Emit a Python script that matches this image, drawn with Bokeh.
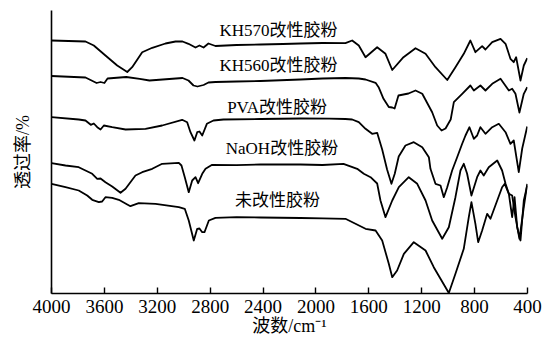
from bokeh.plotting import figure
from bokeh.models import Range1d, FixedTicker, Label
from bokeh.embed import file_html
from bokeh.resources import INLINE

# ---- data (wavenumber cm^-1, relative transmittance, arbitrary offset units) ----
kh570_wn = [4000, 3743, 3680, 3592, 3503, 3427, 3390, 3314, 3238, 3138, 3062, 3009, 2964,
            2911, 2881, 2850, 2813, 2760, 2600, 2419, 2250, 2117, 1950, 1777, 1726, 1676,
            1625, 1537, 1474, 1423, 1338, 1247, 1171, 1096, 1007, 945, 882, 832, 794, 743,
            718, 667, 604, 566, 529, 504, 486, 453, 428, 402]
kh570_t = [253, 252, 248, 238, 228, 221.5, 226.3, 241.3, 245.7, 250, 252, 252, 249.7,
           246, 248, 246, 250, 247.5, 248.5, 249, 249.5, 250, 250.5, 250.3, 253, 248,
           236.3, 246.3, 239.7, 223.5, 236.3, 245.3, 239.7, 226.3, 213.5, 226.3, 239.7, 253, 241.3, 247.3,
           244, 251.3, 254.7, 249.7, 234.7, 231.3, 236.3, 213, 228, 235.3]

kh560_wn = [4000, 3743, 3697, 3659, 3629, 3600, 3576, 3435, 3333, 3259, 3009, 2964, 2926,
            2896, 2850, 2813, 2760, 2600, 2419, 2117, 1950, 1777, 1676, 1625, 1549, 1526,
            1489, 1449, 1423, 1405, 1376, 1300, 1247, 1196, 1121, 1083, 1050, 1020, 981,
            957, 894, 832, 806, 756, 718, 667, 604, 541, 516, 491, 461, 428, 402]
kh560_t = [217.5, 216, 213, 210.5, 211.5, 210.5, 215, 216.5, 214.7, 213, 215.5, 213, 208,
           207, 208.5, 211, 211.5, 212, 212.5, 214, 215, 215.5, 215, 214, 210.7, 206.3,
           194.7, 186.5, 186, 185, 198, 200, 203, 199.7, 181.3, 168, 163, 165, 174,
           191.3, 199.7, 208, 203, 208, 203, 209.7, 214.7, 203, 204.7, 199.7, 181, 199.7, 206.3]

pva_wn = [4000, 3794, 3743, 3703, 3680, 3654, 3629, 3604, 3541, 3440, 3289, 3163, 3012,
          2974, 2949, 2919, 2898, 2881, 2860, 2825, 2775, 2700, 2419, 2117, 1900, 1777,
          1726, 1676, 1625, 1575, 1537, 1499, 1462, 1429, 1404, 1374, 1323, 1260, 1196,
          1146, 1134, 1096, 1058, 1033, 1007, 970, 932, 894, 869, 839, 806, 781, 756,
          718, 667, 617, 566, 529, 504, 466, 440, 402]
pva_t = [176.3, 174, 173, 168.7, 170, 166.3, 164, 168, 166.3, 164, 164.7, 168, 173.7,
         171.3, 161.3, 153, 161.3, 162, 158, 169.7, 173, 174, 174.5, 175, 174.8, 174.5,
         174, 171.3, 164.7, 159.7, 160.7, 144, 124, 109.7, 119.7, 137, 148, 151.3, 146.3,
         136.3, 124.7, 109.7, 108, 96.3, 106.3, 123, 136.3, 149.7, 158, 166.3, 154.7, 158, 166.3,
         159.7, 166.3, 169.7, 161.3, 149.7, 153, 121.3, 145, 167]

naoh_wn = [4000, 3894, 3794, 3743, 3692, 3654, 3629, 3592, 3541, 3478, 3440, 3365, 3314,
           3238, 3163, 3037, 3017, 2992, 2962, 2936, 2911, 2891, 2860, 2835, 2785, 2600,
           2419, 2117, 1950, 1792, 1688, 1638, 1587, 1537, 1512, 1474, 1423, 1373, 1298,
           1234, 1171, 1121, 1045, 995, 945, 907, 882, 857, 824, 781, 756, 731, 693,
           629, 592, 566, 541, 516, 491, 461, 428, 402]
naoh_t = [130.3, 128, 126.3, 123, 119.7, 114.7, 115, 111.3, 107, 100.7, 104.7, 118, 121.3,
          124.7, 129.7, 130.7, 128, 116.3, 101.3, 113, 116.3, 110.3, 119.7, 124.7, 128.7, 128.3,
          129, 129, 128.5, 129.7, 124.7, 119.7, 116.3, 110, 93, 76.3, 93, 106.3, 116.3,
          109.7, 93, 73, 54.7, 66.3, 96.3, 123, 129.7, 120, 98, 116.3, 123, 118, 126.3,
          133, 123, 109.7, 99.7, 98, 76.3, 54.7, 86.3, 109.7]

raw_wn = [4000, 3894, 3794, 3730, 3692, 3642, 3617, 3592, 3541, 3491, 3427, 3403, 3340,
          3213, 3037, 2992, 2962, 2924, 2898, 2881, 2860, 2843, 2810, 2760, 2600, 2419,
          2117, 1950, 1777, 1625, 1549, 1499, 1449, 1423, 1386, 1335, 1260, 1171, 1109,
          1058, 995, 945, 882, 844, 824, 794, 773, 743, 705, 680, 629, 592, 572, 541,
          516, 498, 478, 453, 428, 402]
raw_t = [109.7, 106.3, 103, 98, 93.7, 91.3, 92, 96.3, 95.7, 93.7, 89, 87.3, 90.3,
         89.7, 86.3, 84.7, 73, 53, 64.7, 65, 61.3, 61.3, 73, 75.7, 76.3, 76,
         75.5, 75.2, 74.7, 64.7, 63, 53, 29.7, 16.3, 23, 39.7, 51.3, 43, 26.3,
         14.7, 0.5, 19.7, 44.7, 76.3, 91.3, 69.7, 51.3, 63, 79.7, 74.7, 93, 106.3, 109.7, 99.7,
         76.3, 96.3, 66.3, 53, 93, 108]

series_names = ["KH570改性胶粉", "KH560改性胶粉", "PVA改性胶粉", "NaOH改性胶粉", "未改性胶粉"]
x_ticks = [4000, 3600, 3200, 2800, 2400, 2000, 1600, 1200, 800, 400]

# label anchor positions (data units)
label_pos = [(2283, 263.5), (2283, 228.5), (2294, 186), (2257, 145), (2291, 93)]

SERIF = "'Liberation Serif', 'Noto Sans CJK SC'"

p = figure(width=545, height=344, output_backend="svg", toolbar_location=None,
           x_range=Range1d(4000, 400), y_range=Range1d(0, 283),
           min_border_left=51, min_border_right=18, min_border_top=10, min_border_bottom=51)
p.outline_line_color = None
p.xgrid.visible = False
p.ygrid.visible = False
p.background_fill_color = "white"
p.border_fill_color = "white"

for wn, t in [(kh570_wn, kh570_t), (kh560_wn, kh560_t), (pva_wn, pva_t),
              (naoh_wn, naoh_t), (raw_wn, raw_t)]:
    p.line(wn, t, line_color="black", line_width=1.8, line_join="round")

for name, (lx, ly) in zip(series_names, label_pos):
    p.add_layout(Label(x=lx, y=ly, text=name, text_align="center", text_baseline="middle",
                       text_font=SERIF, text_font_size="17px", text_color="black"))

xa = p.xaxis[0]
xa.ticker = FixedTicker(ticks=x_ticks)
xa.major_tick_in = 6
xa.major_tick_out = 0
xa.minor_tick_in = 0
xa.minor_tick_out = 0
xa.axis_line_width = 1.6
xa.axis_line_color = "black"
xa.major_tick_line_width = 1.4
xa.major_tick_line_color = "black"
xa.major_label_text_font = SERIF
xa.major_label_text_font_size = "19px"
xa.major_label_text_color = "black"
xa.major_label_standoff = 6
xa.axis_label = "波数/cm⁻¹"
xa.axis_label_text_font = SERIF
xa.axis_label_text_font_size = "18px"
xa.axis_label_text_font_style = "normal"
xa.axis_label_text_color = "black"
xa.axis_label_standoff = 0

ya = p.yaxis[0]
ya.ticker = FixedTicker(ticks=[])
ya.major_tick_in = 0
ya.major_tick_out = 0
ya.minor_tick_in = 0
ya.minor_tick_out = 0
ya.major_label_text_font_size = "0px"
ya.axis_line_width = 1.6
ya.axis_line_color = "black"
ya.axis_label = "透过率/%"
ya.axis_label_text_font = SERIF
ya.axis_label_text_font_size = "18px"
ya.axis_label_text_font_style = "normal"
ya.axis_label_text_color = "black"
ya.axis_label_standoff = 19

open("out.html", "w").write(file_html(p, INLINE))
